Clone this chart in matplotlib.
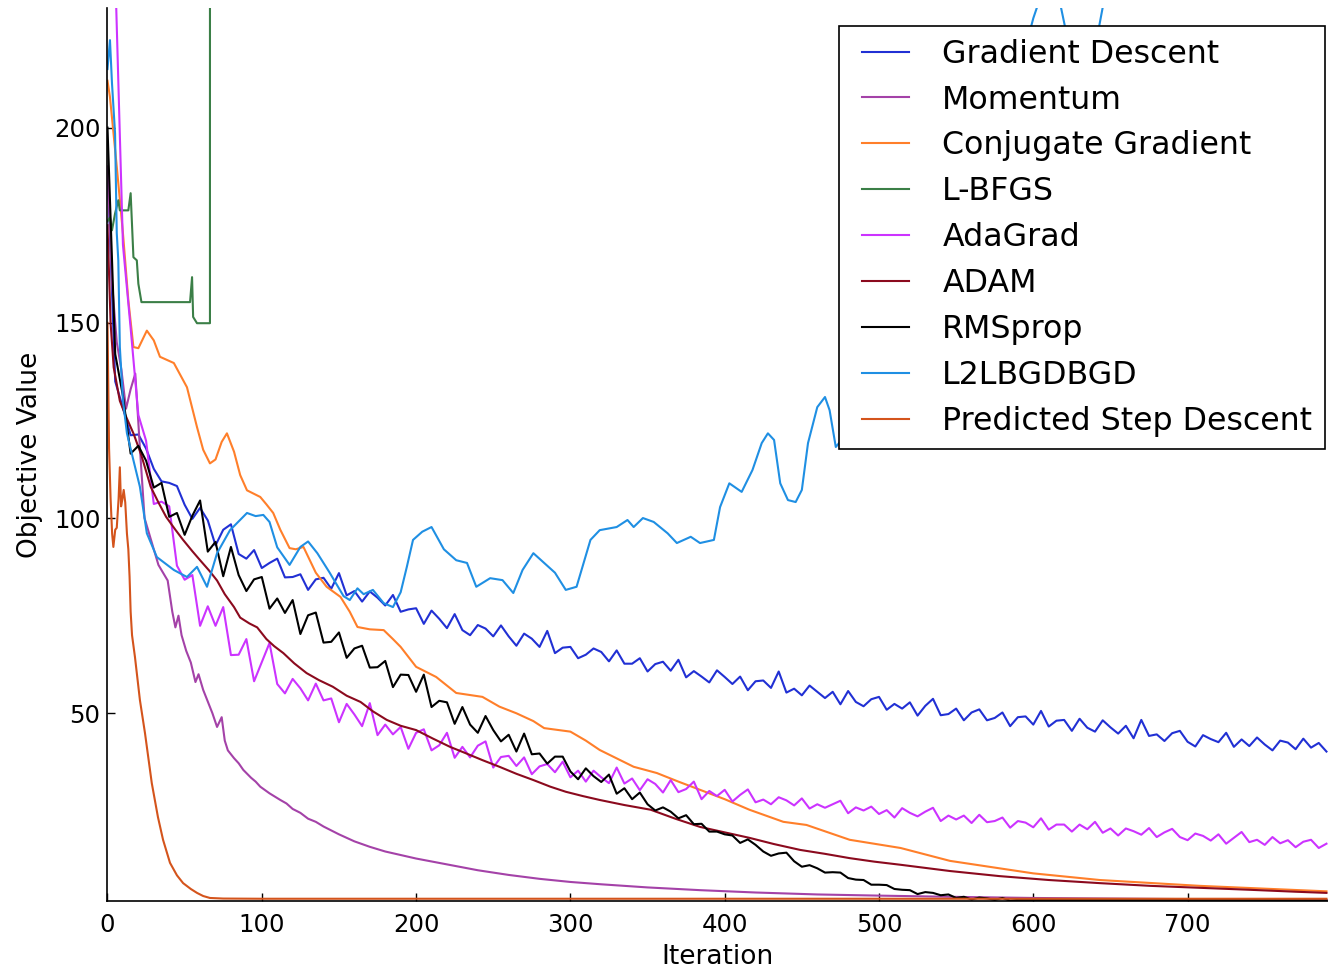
import matplotlib
matplotlib.use("Agg")
import matplotlib.pyplot as plt

# === data ===
noisy_iter = list(range(0, 791, 5))

gd_vals = [
    190, 135, 128.2, 121.2, 121.4, 117.8, 112.6, 109.4, 109, 108.2,
    103.4, 99.8, 102.6, 99.4, 93, 97, 98.4, 90.8, 89.6, 91.8,
    87.2, 88.5, 89.6, 84.8, 84.9, 85.6, 81.6, 84.3, 84.7, 81.9,
    85.9, 80.2, 81.3, 78.6, 81.2, 79.6, 77.6, 80.3, 76, 76.6,
    76.9, 72.9, 76.3, 74.2, 71.8, 75.4, 71.3, 70, 72.6, 71.7,
    69.7, 72.5, 69.7, 67.3, 70.4, 69.1, 67, 71.1, 65.4, 66.8,
    67, 64.1, 65, 66.6, 65.7, 63.3, 66.1, 62.7, 62.7, 64.1,
    60.7, 62.6, 63.2, 60.9, 63.7, 59.2, 60.8, 59.4, 57.9, 61,
    59.3, 57.5, 59.4, 55.9, 58.2, 58.4, 56.5, 60.7, 55.3, 56.3,
    54.6, 57.1, 55.5, 53.9, 55.5, 52.3, 55.7, 52.9, 51.8, 53.6,
    54.2, 50.9, 52.4, 51.2, 52.8, 49.4, 51.9, 53.7, 49.5, 49.8,
    51.2, 48.2, 50.2, 51, 48.2, 48.8, 50.2, 46.7, 49, 49.2,
    47.1, 50.6, 46.6, 48.1, 48.3, 45.5, 48.6, 46.3, 45.3, 48.2,
    46.4, 44.8, 46.8, 43.6, 48.3, 44.2, 44.6, 42.9, 44.9, 45.5,
    42.7, 41.5, 44.4, 43.4, 42.6, 45, 41.4, 43.3, 41.6, 43.8,
    42, 40.5, 43, 42.5, 40.8, 43.5, 41.2, 42.4, 40.2,
]

adagrad_vals = [
    300, 240, 170, 148.6, 126.4, 119.8, 103.6, 104.2, 103, 87.8,
    84.2, 85.4, 72.4, 77.4, 72.4, 77.2, 64.9, 65, 69, 58.2,
    63.1, 68, 57.5, 55.1, 58.8, 56.4, 53.3, 57.6, 53.3, 53.8,
    47.7, 52.4, 49.7, 46.7, 52.6, 44.4, 47.1, 44.6, 46.5, 40.9,
    45, 45.9, 40.5, 41.8, 45, 38.6, 41.4, 38.7, 41.7, 42.8,
    36.1, 38.8, 39.1, 36.5, 38.7, 34.4, 36.4, 37, 34.9, 37.6,
    33.6, 35.3, 32.5, 35.3, 33.6, 32.1, 36.1, 32, 33.3, 30.3,
    33.1, 31.9, 29.7, 32.9, 29.8, 30.6, 32.5, 28, 30.1, 28.8,
    30.4, 27.4, 29.1, 30.5, 27.2, 27.9, 26.7, 28.5, 27.7, 26.4,
    28.2, 25.6, 26.7, 25.8, 26.7, 27.6, 24.4, 25.9, 25.1, 26.1,
    24.2, 25.2, 23.3, 25.7, 24.5, 23.6, 24.8, 25.8, 22.4, 23.8,
    22.8, 23.8, 21.9, 24, 22.1, 22.4, 23.3, 20.7, 22.4, 22,
    20.8, 23.1, 20.2, 21.5, 21.5, 19.7, 21.5, 20.3, 22.2, 19.4,
    20.5, 18.7, 20.5, 19.8, 18.9, 20.6, 18.3, 19.5, 20.4, 18.3,
    17.5, 19.2, 18.6, 17.4, 19, 16.6, 18.1, 19.6, 17, 17.6,
    16.3, 18.3, 16.7, 17.5, 15.7, 17.1, 17.6, 15.5, 16.6,
]

rms_iter = list(range(0, 591, 5)) + [650, 720, 790]
rms_vals = [
    200, 142, 131.3, 116.5, 118.5, 114.7, 107.8, 109, 100.3, 101.3,
    95.7, 100.6, 104.5, 91.4, 93.9, 85.1, 92.6, 85.4, 81.3, 84.3,
    84.9, 76.8, 79.4, 75.7, 79, 70.3, 75.1, 75.8, 68.1, 68.3,
    70.7, 64.2, 66.6, 67.3, 61.7, 61.8, 63.4, 56.7, 59.9, 59.8,
    55.5, 59.9, 51.6, 53.2, 52.8, 47.3, 51.6, 47.1, 45, 49.3,
    45.7, 42.8, 44.5, 40.2, 44.8, 39.5, 39.7, 37.1, 38.9, 38.9,
    35.1, 33.1, 35.9, 33.9, 32.4, 34.3, 29.4, 30.8, 28, 29.7,
    26.7, 25.1, 25.9, 24.8, 23.1, 23.9, 21.6, 21.7, 19.7, 19.7,
    19, 18.7, 16.8, 17.7, 16.3, 14.6, 13.5, 14.1, 14.3, 12.1,
    10.7, 11.1, 10.3, 9.2, 9.3, 9.2, 7.8, 7.4, 7.3, 6.1,
    6.1, 6, 5, 4.8, 4.7, 3.7, 4.2, 4, 3.4, 3.6,
    2.7, 3, 2.3, 2.8, 2.6, 2.2, 2.7, 2, 2.2,
    2.2, 2.2, 2.1,
]

mom_iter = [0, 3, 6, 9, 12, 15, 18, 21, 24, 27, 30, 33, 36, 39, 42, 44, 46, 48,
            51, 54, 57, 59, 62, 65, 68, 71, 74, 76, 78, 82, 85, 88, 93, 96, 99,
            105, 112, 116, 120, 125, 130, 135, 140, 150, 160, 170, 180, 190, 200,
            220, 240, 260, 280, 300, 320, 350, 384, 420, 460, 500, 546, 600, 700, 790]
mom_vals = [190, 160, 145, 138, 128, 133, 137, 118, 100, 96, 92, 88, 86, 84, 76, 72, 75, 70,
            66, 63, 58, 60, 56, 53, 50, 46.5, 49, 43, 40.5, 38.5, 37.2, 35.5, 33.5, 32.5, 31.2,
            29.5, 27.8, 26.9, 25.5, 24.5, 23, 22.2, 21, 19, 17.2, 15.8, 14.6, 13.7, 12.8,
            11.3, 9.8, 8.6, 7.6, 6.8, 6.2, 5.4, 4.7, 4.1, 3.6, 3.3, 3, 2.7, 2.4, 2.2]

cg_iter = [0, 1.6, 3.9, 6, 10, 13.5, 16.8, 20, 25.5, 30, 34, 43, 51.5, 58, 62, 66.4, 70, 74,
           77.4, 82, 86, 90.4, 99, 103, 107.4, 112, 118, 122, 127, 135, 142, 151, 157, 162,
           170, 179, 185, 190, 200, 213, 226, 243, 254, 265, 276, 283, 300, 310, 319, 341,
           356, 370, 384, 400, 416, 438, 453, 467, 481, 514, 546, 578, 600, 643, 708, 790]
cg_vals = [212, 207.8, 198.5, 190, 173, 155.8, 143.8, 143.5, 148, 145.5, 141.3, 139.7, 133.5,
           123.3, 117.5, 114, 115, 119.5, 121.7, 117, 111, 107.1, 105.4, 103.5, 101.3, 97,
           92.3, 92, 92.6, 86, 82.4, 79.8, 76, 72.1, 71.5, 71.3, 69, 67, 61.9, 59.3, 55.2,
           54.2, 51.7, 50, 48, 46.2, 45.3, 43, 40.6, 36.3, 34.7, 32.5, 30.4, 28, 25.3, 22.2,
           21.4, 19.5, 17.6, 15.5, 12.2, 10.3, 9, 7.3, 5.8, 4.4]

lbfgs_iter = [0, 1.6, 2.9, 4.9, 7, 8, 13.5, 15, 16.8, 19, 20, 22, 53.5, 54.8, 55.5, 58, 66.4, 66.5]
lbfgs_vals = [176, 177, 173.7, 178, 181.4, 178.8, 178.8, 183.2, 166.8, 166, 160, 155.3, 155.3,
              161.7, 151.5, 149.9, 149.9, 1000]

adam_iter = [0, 2, 4, 8, 12, 17, 22, 28, 33, 38, 44, 49, 55, 60, 66, 71, 76, 82, 86, 92, 97,
             103, 108, 114, 121, 129, 137, 146, 155, 164, 172, 181, 190, 200, 211, 222, 232,
             243, 254, 265, 276, 287, 297, 308, 319, 335, 352, 368, 384, 400, 416, 432, 449,
             465, 481, 497, 514, 530, 546, 578, 610, 643, 676, 708, 740, 770, 790]
adam_vals = [175, 150, 138.6, 130, 126, 121.5, 116, 108, 104, 100.3, 97, 94.4, 91.5, 89.2,
             86.5, 84, 80.5, 77.2, 74.5, 73, 72, 69, 67.2, 65.4, 62.8, 60.3, 58.5, 56.8, 54.5,
             52.9, 50.5, 48.3, 46.8, 45.7, 43.5, 41.4, 39.8, 38, 36.3, 34.5, 32.9, 31.2, 29.9,
             28.8, 27.8, 26.5, 25.3, 23, 20.9, 19.5, 18.1, 16.5, 15, 14, 12.9, 12, 11.2, 10.4,
             9.6, 8.3, 7.3, 6.5, 5.8, 5.3, 4.8, 4.3, 4.0]

l2l_iter = [0, 1.6, 2.9, 4.9, 6, 7, 8, 10, 12.6, 16.8, 21, 25.5, 32, 43, 51.5, 58, 64.5, 71,
            79.4, 90.4, 96, 101, 105, 110, 118, 125, 130, 136, 144, 153, 157, 162, 166, 172,
            179, 185, 190, 194, 198, 204, 210, 218, 226, 233, 239, 248, 256, 263, 269, 276,
            283, 290, 297, 304, 313, 319, 330, 337, 341, 347, 354, 363, 369, 378, 384, 393,
            397, 403, 411, 418, 424, 428, 432, 436, 441, 446, 450, 454, 460, 465, 468, 472,
            480, 500, 520, 540, 560, 580, 600, 612, 621, 628, 637, 647, 657, 670, 700]
l2l_vals = [215, 222.4, 211.4, 198.5, 173, 166, 143.8, 130.2, 121.7, 114.8, 108, 96.1, 90,
            86.7, 84.9, 87.5, 82.4, 91, 96.9, 101.3, 100.5, 100.8, 99, 92.5, 88, 92.6, 94, 91,
            86, 80, 79, 82, 80.5, 81.6, 78.2, 77.2, 81, 87.5, 94.4, 96.5, 97.7, 92, 89.2, 88.5,
            82.4, 84.6, 84.1, 80.8, 86.7, 91, 88.5, 86, 81.6, 82.4, 94.4, 96.9, 97.7, 99.5,
            97.7, 100, 99, 96.1, 93.6, 95.2, 93.6, 94.4, 102.8, 108.9, 106.7, 112.3, 119.2,
            121.7, 120, 108.9, 104.6, 104.1, 107.2, 119.2, 128.4, 131, 127.6, 118.2, 122, 138,
            152, 165, 178, 198, 228, 242, 225, 212, 214, 235, 260, 300, 360]

psd_iter = [0, 1, 2, 3, 3.8, 5, 6, 7.2, 8, 8.8, 9.5, 10.5, 11.5, 12.6, 13.5, 14.3, 15, 15.9,
            17.8, 21, 24.3, 28.7, 32.7, 36, 40.5, 45, 49, 54, 58, 62, 66.4, 75, 100, 200,
            400, 600, 790]
psd_vals = [150, 118, 105, 96, 92.6, 97, 97.5, 105, 113, 103, 104.5, 107.2, 104, 96, 92, 85,
            76, 70, 64.4, 53.4, 44.9, 32.1, 23.4, 17.6, 11.7, 8.5, 6.5, 5, 4, 3.2, 2.7, 2.55,
            2.5, 2.5, 2.5, 2.5, 2.5]

series = [
    ("Gradient Descent", noisy_iter, gd_vals, "#2130d4"),
    ("Momentum", mom_iter, mom_vals, "#a442a8"),
    ("Conjugate Gradient", cg_iter, cg_vals, "#ff7f2a"),
    ("L-BFGS", lbfgs_iter, lbfgs_vals, "#3b7f47"),
    ("AdaGrad", noisy_iter, adagrad_vals, "#cc33ff"),
    ("ADAM", adam_iter, adam_vals, "#8b0a1e"),
    ("RMSprop", rms_iter, rms_vals, "#000000"),
    ("L2LBGDBGD", l2l_iter, l2l_vals, "#1f8fe3"),
    ("Predicted Step Descent", psd_iter, psd_vals, "#d4541c"),
]

# === figure ===
fig = plt.figure(figsize=(13.28, 9.71), dpi=100)
ax = fig.add_axes([107.5 / 1328, 1 - 900.7 / 971, 1 - 107.5 / 1328, (900.7 - 8.5) / 971])

for name, xs, ys, col in series:
    ax.plot(xs, ys, color=col, lw=1.5, label=name)

ax.set_xlim(0, 791)
ax.set_ylim(2, 230.5)
ax.set_xticks(range(0, 701, 100))
ax.set_yticks([50, 100, 150, 200])
ax.spines["top"].set_visible(False)
ax.spines["right"].set_visible(False)
ax.spines["left"].set_linewidth(1.2)
ax.spines["bottom"].set_linewidth(1.2)
ax.tick_params(direction="in", length=6, width=1, labelsize=17.6)
ax.tick_params(axis="x", pad=9)
ax.tick_params(axis="y", pad=5)

ax.set_xlabel("Iteration", fontsize=19, labelpad=5)
ax.set_ylabel("Objective Value", fontsize=19, labelpad=8)

leg = ax.legend(loc="upper right", bbox_to_anchor=(1325 / 1328, 1 - 26 / 971),
                bbox_transform=fig.transFigure, borderaxespad=0,
                fontsize=22.8, numpoints=2, borderpad=0.4, handlelength=2.1,
                handletextpad=0.75, labelspacing=0.47, fancybox=False, framealpha=1)
leg.get_frame().set_edgecolor("black")
leg.get_frame().set_linewidth(1.2)

fig.savefig("out.png", dpi=100)
